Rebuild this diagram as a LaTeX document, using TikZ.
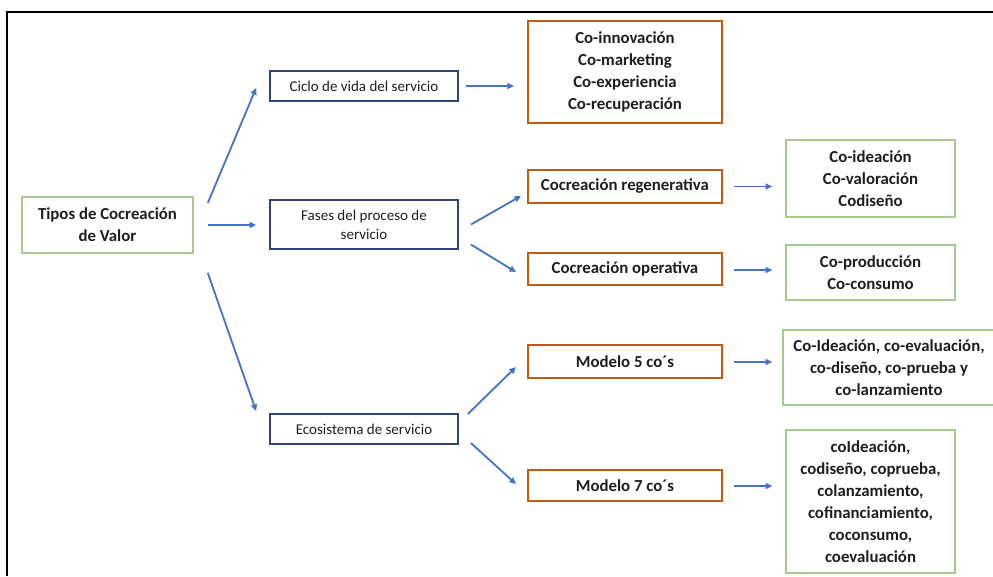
\documentclass[tikz,border=0pt]{standalone}
\usepackage{fontspec}
\setmainfont{Carlito}
\usetikzlibrary{calc,arrows.meta}
\definecolor{navyb}{RGB}{47,68,120}
\definecolor{orangeb}{RGB}{197,90,17}
\definecolor{greenb}{RGB}{168,202,140}
\definecolor{arrowb}{RGB}{68,114,196}
\definecolor{txt}{RGB}{30,30,30}
\tikzset{
  box/.style={draw, inner sep=0pt, align=center, text=txt, font=\fontsize{16.8}{22}\selectfont\bfseries},
  navybox/.style={box, draw=navyb, line width=1.8pt, font=\fontsize{15}{19}\selectfont},
  orangebox/.style={box, draw=orangeb, line width=2.2pt},
  greenbox/.style={box, draw=greenb, line width=1.6pt},
  arr/.style={draw=arrowb, line width=1.8pt, -{Triangle[length=6.5pt,width=6pt]}}
}
\begin{document}
\begin{tikzpicture}[x=1pt,y=-1pt]
\useasboundingbox (0,0) rectangle (993,576);
% frame
\draw[line width=2pt] (7,576) -- (7,11.5) -- (994,11.5);
% nodes
\node[greenbox, minimum width=171pt, minimum height=56pt] (tipos) at (107.5,225) {Tipos de Cocreación\\de Valor};
\node[navybox, minimum width=188pt, minimum height=30pt] (ciclo) at (364,86) {Ciclo de vida del servicio};
\node[navybox, minimum width=188pt, minimum height=49pt] (fases) at (364,224.5) {Fases del proceso de\\servicio};
\node[navybox, minimum width=188pt, minimum height=30pt] (eco) at (364,429) {Ecosistema de servicio};
\node[orangebox, minimum width=194pt, minimum height=102pt] (coinn) at (625,72) {Co-innovación\\Co-marketing\\Co-experiencia\\Co-recuperación};
\node[orangebox, minimum width=194pt, minimum height=33pt] (regen) at (625,186.5) {Cocreación regenerativa};
\node[orangebox, minimum width=194pt, minimum height=32pt] (oper) at (625,269) {Cocreación operativa};
\node[orangebox, minimum width=194pt, minimum height=33pt] (mod5) at (625,361.5) {Modelo 5 co´s};
\node[orangebox, minimum width=194pt, minimum height=31pt] (mod7) at (625,485.5) {Modelo 7 co´s};
\node[greenbox, minimum width=169pt, minimum height=77pt] (ideac) at (870.5,178.5) {Co-ideación\\Co-valoración\\Codiseño};
\node[greenbox, minimum width=169pt, minimum height=55pt] (prod) at (870.5,272.5) {Co-producción\\Co-consumo};
\node[greenbox, minimum width=212pt, minimum height=75pt] (ideac5) at (889,367.5) {Co-Ideación, co-evaluación,\\co-diseño, co-prueba y\\co-lanzamiento};
\node[greenbox, minimum width=169pt, minimum height=143pt] (co7) at (870.5,501.5) {coIdeación,\\codiseño, coprueba,\\colanzamiento,\\cofinanciamiento,\\coconsumo,\\coevaluación};
% connectors
\draw[arr] ($(tipos.east)+(14,-22)$) -- ($(ciclo.west)+(-13,2)$);
\draw[arr] ($(tipos.east)+(14,0)$) -- ($(fases.west)+(-13,0.5)$);
\draw[arr] ($(tipos.east)+(14,48)$) -- ($(eco.west)+(-13,-18)$);
\draw[arr] ($(ciclo.east)+(7,0)$) -- ($(coinn.west)+(-13,14)$);
\draw[arr] ($(fases.east)+(12,0)$) -- ($(regen.west)+(-6,9.5)$);
\draw[arr] ($(fases.east)+(12,20)$) -- ($(oper.west)+(-11,3)$);
\draw[arr] ($(eco.east)+(9,-15)$) -- ($(mod5.west)+(-11,5.5)$);
\draw[arr] ($(eco.east)+(12,14)$) -- ($(mod7.west)+(-11,-1.5)$);
\draw[arr] ($(regen.east)+(11,0)$) -- ($(ideac.west)+(-13,8)$);
\draw[arr] ($(oper.east)+(11,1)$) -- ($(prod.west)+(-13,-2.5)$);
\draw[arr] ($(mod5.east)+(11,0.5)$) -- ($(ideac5.west)+(-10,-5.5)$);
\draw[arr] ($(mod7.east)+(11,0.5)$) -- ($(co7.west)+(-13,-15.5)$);
\end{tikzpicture}
\end{document}
